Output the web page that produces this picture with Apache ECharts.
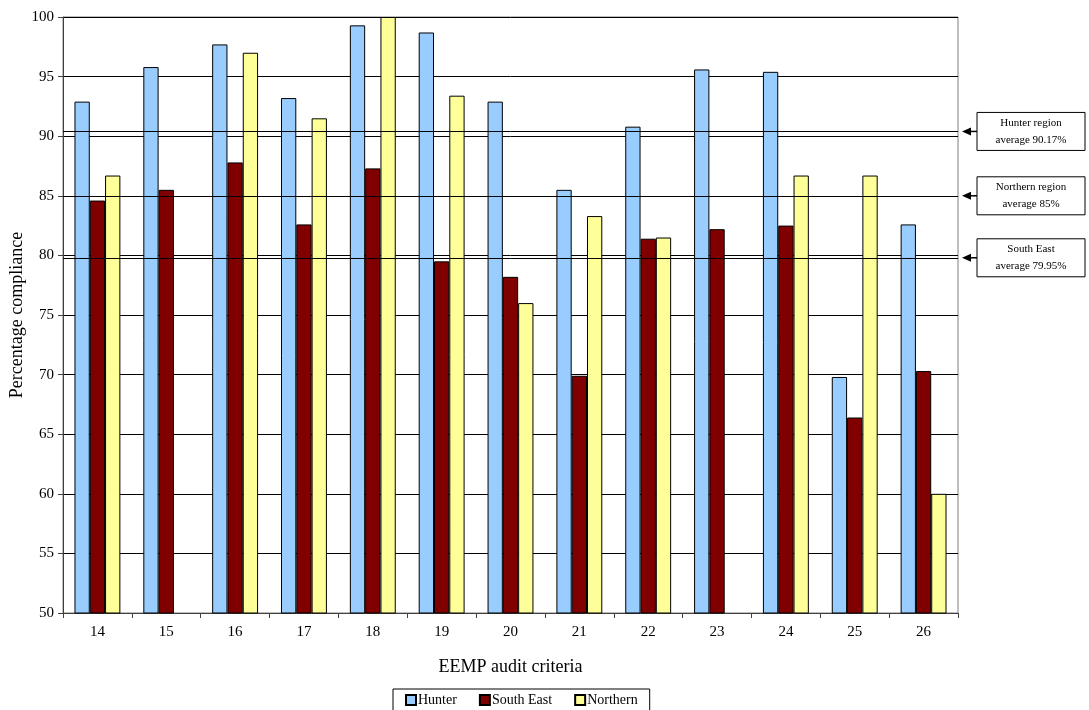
<!DOCTYPE html>
<html><head><meta charset="utf-8">
<script src="https://cdn.jsdelivr.net/npm/echarts@6/dist/echarts.min.js"></script>
<style>html,body{margin:0;padding:0;background:#fff}#c{width:1089px;height:710px}</style>
</head><body><div id="c"></div>
<script>
const categories = ['14','15','16','17','18','19','20','21','22','23','24','25','26'];
const hunter   = [92.9, 95.8, 97.7, 93.2, 99.3, 98.7, 92.9, 85.5, 90.8, 95.6, 95.4, 69.8, 82.6];
const southEast= [84.6, 85.5, 87.8, 82.6, 87.3, 79.5, 78.2, 69.9, 81.4, 82.2, 82.5, 66.4, 70.3];
const northern = [86.7, null, 97.0, 91.5, 100, 93.4, 76.0, 83.3, 81.5, null, 86.7, 86.7, 60.0];
const averageLines = [90.4, 85, 79.8];
const averageLabels = ['Hunter region\naverage 90.17%', 'Northern region\naverage 85%', 'South East\naverage 79.95%'];
const yTicks = [50, 55, 60, 65, 70, 75, 80, 85, 90, 95, 100];

const FONT = '"Liberation Serif", "DejaVu Serif", serif';
const chart = echarts.init(document.getElementById('c'), null, {renderer: 'canvas'});
const barStyle = c => ({color: c, borderColor: '#000', borderWidth: 1});
const option = {
  animation: false,
  textStyle: {fontFamily: FONT},
  grid: {left: 63, right: 131, top: 17, bottom: 97, show: true, borderColor: '#808080', borderWidth: 1,
    containLabel: false, outerBoundsMode: 'none'},
  legend: {
    left: 393, top: 689, width: 256,
    data: ['Hunter', 'South East', 'Northern'],
    itemWidth: 10, itemHeight: 10, itemGap: 22,
    padding: [4, 12, 4, 12],
    borderColor: '#000', borderWidth: 1,
    textStyle: {fontFamily: FONT, fontSize: 14, color: '#000', padding: [0, 0, 0, -3]},
    icon: 'rect'
  },
  xAxis: {
    type: 'category', data: categories,
    name: 'EEMP audit criteria', nameLocation: 'middle', nameGap: 45, nameMoveOverlap: false,
    nameTextStyle: {fontFamily: FONT, fontSize: 18, color: '#000'},
    axisLine: {lineStyle: {color: '#404040'}},
    axisTick: {show: true, length: 5, lineStyle: {color: '#404040'}},
    axisLabel: {fontFamily: FONT, fontSize: 15, color: '#000', margin: 12}
  },
  yAxis: {
    type: 'value', min: 50, max: 100, interval: 5,
    name: 'Percentage compliance', nameLocation: 'middle', nameGap: 37, nameMoveOverlap: false,
    nameTextStyle: {fontFamily: FONT, fontSize: 18, color: '#000'},
    axisLine: {show: true, lineStyle: {color: '#404040'}},
    axisTick: {show: true, length: 5, lineStyle: {color: '#404040'}},
    axisLabel: {fontFamily: FONT, fontSize: 15, color: '#000', margin: 9,
      formatter: v => yTicks.includes(v) ? String(v) : ''},
    splitLine: {lineStyle: {color: '#000', width: 1}}
  },
  series: [
    {name: 'Hunter', type: 'bar', data: hunter, barWidth: 15.3, barGap: '0%', itemStyle: barStyle('#99CCFF'),
      markLine: {silent: true, symbol: 'none', label: {show: false},
        lineStyle: {color: '#000', width: 1, type: 'solid'},
        data: averageLines.map(v => ({yAxis: v}))}},
    {name: 'South East', type: 'bar', data: southEast, barWidth: 15.3, barGap: '0%', itemStyle: barStyle('#800000')},
    {name: 'Northern', type: 'bar', data: northern, barWidth: 15.3, barGap: '0%', itemStyle: barStyle('#FFFF99')}
  ]
};
chart.setOption(option);

const boxX = 977, boxW = 108, boxH = 38;
const graphics = [];
averageLines.forEach((v, i) => {
  const y = chart.convertToPixel({yAxisIndex: 0}, v);
  graphics.push({type: 'line', shape: {x1: 966, y1: y, x2: boxX, y2: y}, style: {stroke: '#000', lineWidth: 1.5}});
  graphics.push({type: 'polygon', shape: {points: [[962, y], [971, y - 4], [971, y + 4]]}, style: {fill: '#000'}});
  let top = y - boxH / 2;
  graphics.push({type: 'rect', shape: {x: boxX, y: top, width: boxW, height: boxH},
    style: {fill: '#fff', stroke: '#000', lineWidth: 1}});
  graphics.push({type: 'text', x: boxX + boxW / 2, y: top + boxH / 2,
    style: {text: averageLabels[i], fontFamily: FONT, fontSize: 11, fill: '#000',
      align: 'center', verticalAlign: 'middle', lineHeight: 17}});
});
chart.setOption({graphic: graphics});
</script></body></html>
